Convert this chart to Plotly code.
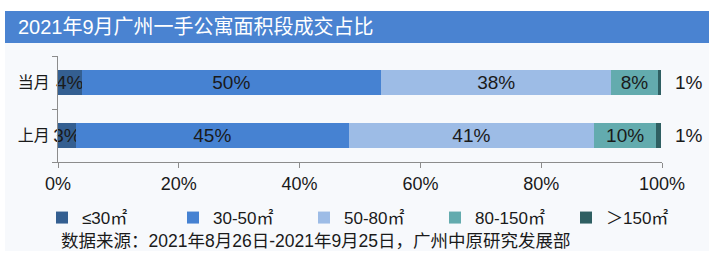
import plotly.graph_objects as go

# ---- data ----
categories = ["上月", "当月"]
series_names = ["≤30㎡", "30-50㎡", "50-80㎡", "80-150㎡", "＞150㎡"]
v_le30 = [3.0, 3.9]
v_30_50 = [45.1, 49.6]
v_50_80 = [40.7, 38.1]
v_80_150 = [10.2, 7.7]
v_gt150 = [0.9, 0.6]
x_ticks = [0, 20, 40, 60, 80, 100]
x_tick_labels = ["0%", "20%", "40%", "60%", "80%", "100%"]
title_text = "2021年9月广州一手公寓面积段成交占比"
source_text = "数据来源：2021年8月26日-2021年9月25日，广州中原研究发展部"

colors = ["#345f91", "#4682d2", "#9dbce6", "#63abae", "#2f5f62"]
values = [v_le30, v_30_50, v_50_80, v_80_150, v_gt150]

FONT = "Liberation Sans, Arial, Noto Sans CJK SC, sans-serif"
W, H = 720, 265
ML, MR, MT, MB = 58, 58, 56, 103
PW, PH = W - ML - MR, H - MT - MB


def px_x(p):
    return (p - ML) / PW


def px_y(p):
    return (H - MB - p) / PH


fig = go.Figure()
for i, (name, vals) in enumerate(zip(series_names, values)):
    last = i == len(series_names) - 1
    fig.add_trace(go.Bar(
        y=categories, x=vals, name=name, orientation="h",
        marker=dict(color=colors[i], line=dict(width=0)),
        texttemplate=("  %{x:.0f}%" if last else "%{x:.0f}%"),
        textposition="outside" if last else "inside",
        insidetextanchor="middle",
        textangle=0,
        constraintext="none",
        cliponaxis=False,
        textfont=dict(family=FONT, size=19, color="#1a1a1a"),
        outsidetextfont=dict(family=FONT, size=19, color="#1a1a1a"),
        width=0.49,
    ))

fig.update_layout(
    width=W, height=H,
    margin=dict(l=ML, r=MR, t=MT, b=MB, pad=0),
    barmode="stack",
    paper_bgcolor="white",
    plot_bgcolor="rgba(0,0,0,0)",
    font=dict(family=FONT, size=16, color="#1a1a1a"),
    showlegend=True,
    legend=dict(
        orientation="h", x=px_x(42), y=px_y(200), xanchor="left", yanchor="top",
        font=dict(family=FONT, size=17, color="#1a1a1a"),
        bgcolor="rgba(0,0,0,0)", traceorder="normal",
        itemwidth=30, tracegroupgap=0,
        entrywidth=86, entrywidthmode="pixels",
    ),
    xaxis=dict(
        range=[0, 100], tickmode="array", tickvals=x_ticks, ticktext=x_tick_labels,
        showgrid=False, zeroline=False,
        showline=True, linecolor="#8c8c8c", linewidth=1,
        ticks="outside", ticklen=5, tickcolor="#8c8c8c",
        tickfont=dict(family=FONT, size=18, color="#1a1a1a"),
        fixedrange=True,
    ),
    yaxis=dict(
        range=[-0.5, 1.5], type="category",
        showgrid=False, zeroline=False,
        showline=True, linecolor="#8c8c8c", linewidth=1,
        ticks="outside", ticklen=5, tickcolor="#8c8c8c", tickson="boundaries",
        tickfont=dict(family=FONT, size=16, color="#1a1a1a"),
        ticklabelstandoff=4,
        fixedrange=True,
    ),
    shapes=[
        dict(type="rect", xref="paper", yref="paper",
             x0=px_x(5), x1=px_x(709), y0=px_y(251), y1=px_y(43),
             fillcolor="#f7f9fc", line=dict(width=0), layer="below"),
        dict(type="rect", xref="paper", yref="paper",
             x0=px_x(5), x1=px_x(709), y0=px_y(43), y1=px_y(11),
             fillcolor="#4a83d1", line=dict(width=0), layer="below"),
    ],
    annotations=[
        dict(text=title_text, xref="paper", yref="paper",
             x=px_x(16), y=px_y(27), xanchor="left", yanchor="middle",
             showarrow=False, font=dict(family=FONT, size=20, color="white")),
        dict(text=source_text, xref="paper", yref="paper",
             x=px_x(59), y=px_y(241), xanchor="left", yanchor="middle",
             showarrow=False, font=dict(family=FONT, size=17.5, color="#1a1a1a")),
    ],
)

fig.write_html("out.html", config={"displayModeBar": False})
